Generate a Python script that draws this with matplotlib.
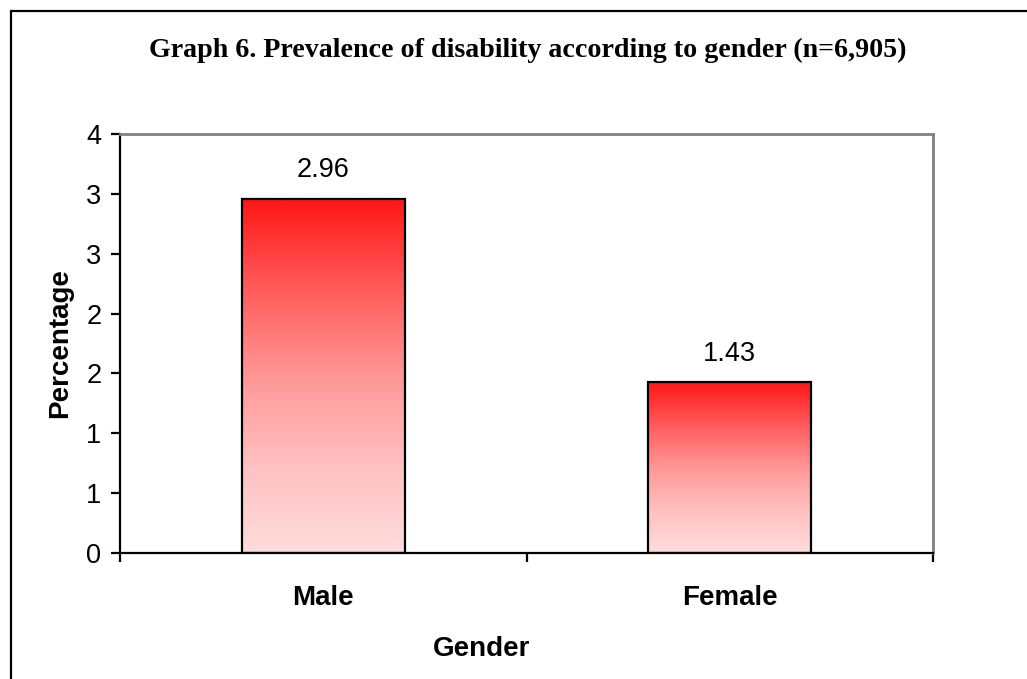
import numpy as np
import matplotlib
matplotlib.use("Agg")
import matplotlib.pyplot as plt
from matplotlib.colors import LinearSegmentedColormap
from matplotlib.patches import Rectangle

# Data
categories = ["Male", "Female"]
prevalence = [2.96, 1.43]
y_ticks = [0, 0.5, 1, 1.5, 2, 2.5, 3, 3.5]
y_tick_labels = ["0", "1", "1", "2", "2", "3", "3", "4"]

title = "Graph 6. Prevalence of disability according to gender (n=6,905)"
x_label = "Gender"
y_label = "Percentage"

W, H, DPI = 1027, 679, 100
fig = plt.figure(figsize=(W / DPI, H / DPI), dpi=DPI)
fig.patch.set_facecolor("white")

def fx(px):
    return px / W

def fy(py):
    return 1 - py / H

# outer chart frame
fig.add_artist(Rectangle((fx(11), fy(700)), fx(1100), fy(11) - fy(700),
                         transform=fig.transFigure, fill=False,
                         edgecolor="black", linewidth=1.6))

ax = fig.add_axes([fx(120), fy(553), fx(933) - fx(120), fy(134) - fy(553)])
ax.set_xlim(-0.5, 1.5)
ax.set_ylim(0, 3.5)

# gradient bars: deep red at top fading to pale pink at the base
cmap = LinearSegmentedColormap.from_list(
    "redfade", ["#ffdcdc", "#ffc0c0", "#ff9696", "#ff5a5a", "#ff1616"])
grad = np.linspace(0, 1, 256).reshape(-1, 1)
width = 0.4
x = np.arange(len(categories))
bars = ax.bar(x, prevalence, width=width, facecolor="none",
              edgecolor="black", linewidth=1.6, zorder=3)
for b in bars:
    x0, y0 = b.get_x(), b.get_y()
    im = ax.imshow(grad, cmap=cmap, origin="lower", aspect="auto",
                   extent=[x0, x0 + b.get_width(), y0, y0 + b.get_height()],
                   zorder=2, interpolation="bilinear")
    im.set_clip_path(b)

for xi, v in zip(x, prevalence):
    ax.annotate(f"{v:.2f}", (xi, v), xytext=(0, 11), textcoords="offset points",
                ha="center", va="bottom", fontsize=19.5, family="Liberation Sans")

# axes styling
for side in ["top", "right"]:
    ax.spines[side].set_color("#808080")
    ax.spines[side].set_linewidth(2)
for side in ["left", "bottom"]:
    ax.spines[side].set_color("black")
    ax.spines[side].set_linewidth(1.6)

ax.set_yticks(y_ticks)
ax.set_yticklabels(y_tick_labels, fontsize=19.5, family="Liberation Sans")
ax.tick_params(axis="y", direction="out", length=6.5, width=1.6, pad=7)

ax.set_xticks(x)
ax.set_xticklabels(categories, fontsize=20, fontweight="bold",
                   family="Liberation Sans")
ax.tick_params(axis="x", which="major", length=0, pad=23)
ax.set_xticks([-0.5, 0.5, 1.5], minor=True)
ax.tick_params(axis="x", which="minor", direction="out", length=6.5, width=1.6)

fig.text(fx(60), fy(343), y_label, rotation=90, ha="center", va="center",
         fontsize=20, fontweight="bold", family="Liberation Sans")
fig.text(fx(482), fy(649), x_label, ha="center", va="center",
         fontsize=20, fontweight="bold", family="Liberation Sans")
fig.text(fx(528), fy(50), title, ha="center", va="center",
         fontsize=20.2, fontweight="bold", family="Liberation Serif")

fig.savefig("out.png", dpi=DPI)
